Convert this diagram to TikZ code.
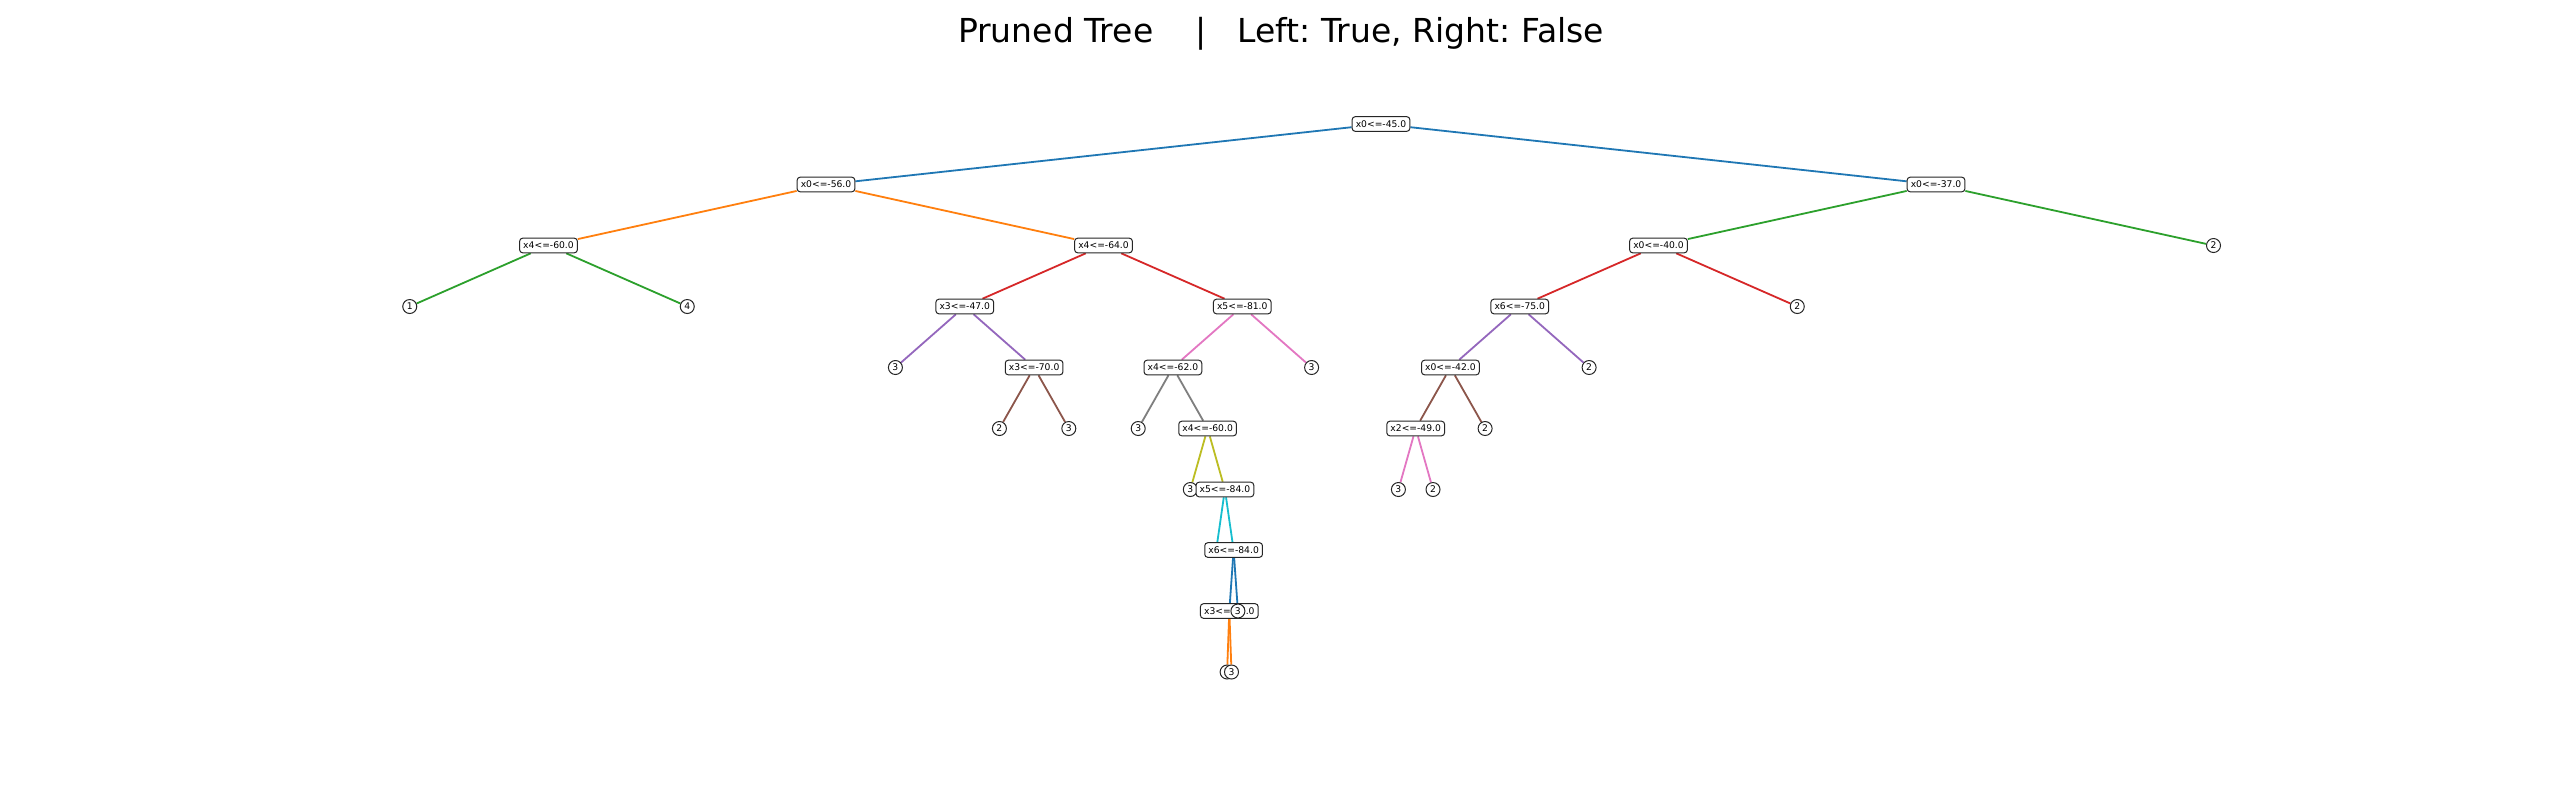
\documentclass[tikz,border=0pt]{standalone}
\usepackage{fontspec}
\setmainfont{DejaVu Sans}
\frenchspacing
\usetikzlibrary{backgrounds}
\definecolor{tabblue}{HTML}{1F77B4}
\definecolor{taborange}{HTML}{FF7F0E}
\definecolor{tabgreen}{HTML}{2CA02C}
\definecolor{tabred}{HTML}{D62728}
\definecolor{tabpurple}{HTML}{9467BD}
\definecolor{tabbrown}{HTML}{8C564B}
\definecolor{tabpink}{HTML}{E377C2}
\definecolor{tabgray}{HTML}{7F7F7F}
\definecolor{tabolive}{HTML}{BCBD22}
\definecolor{tabcyan}{HTML}{17BECF}

\begin{document}
\begin{tikzpicture}[x=0.5pt, y=-0.5pt, link/.style = {line width=0.9pt},
  split/.style = {draw=black!85, fill=white, line width=0.5pt, rounded corners=1.5pt, font=\fontsize{4.6}{5}\selectfont, inner xsep=1.8pt, inner ysep=2pt, text height=3.3pt, text depth=0pt},
  leaf/.style = {draw=black!85, fill=white, circle, line width=0.5pt, minimum size=7pt, inner sep=0pt, font=\fontsize{4.6}{5}\selectfont}]
\useasboundingbox (0,0) rectangle (2560,800);
\node[font=\fontsize{16.5}{20}\selectfont, anchor=base] (title) at (1281,42) {Pruned Tree\ \ \ \ |\ \ \ Left: True, Right: False};
% left branch
\node[split] (1) at (1381,124) {x0<=-45.0};
\node[split] (2) at (826,184.5) {x0<=-56.0};
\node[split] (3) at (548.5,245.5) {x4<=-60.0};
\node[leaf] (4) at (409.75,306.5) {1};
\node[leaf] (5) at (687.25,306.5) {4};
\node[split] (6) at (1103.5,245.5) {x4<=-64.0};
\node[split] (7) at (964.75,306.5) {x3<=-47.0};
\node[leaf] (8) at (895.4,367.5) {3};
\node[split] (9) at (1034.1,367.5) {x3<=-70.0};
\node[leaf] (10) at (999.4,428.5) {2};
\node[leaf] (11) at (1068.8,428.5) {3};
\node[split] (12) at (1242.25,306.5) {x5<=-81.0};
\node[split] (13) at (1172.9,367.5) {x4<=-62.0};
\node[leaf] (14) at (1138.2,428.5) {3};
\node[split] (15) at (1207.6,428.5) {x4<=-60.0};
\node[leaf] (16) at (1190.3,489.5) {3};
\node[split] (17) at (1224.9,489.5) {x5<=-84.0};
\node[leaf] (18) at (1216.2,550) {3};
\node[split] (19) at (1233.6,550) {x6<=-84.0};
\node[split] (20) at (1229.3,611) {x3<=-66.0};
\node[leaf] (21) at (1227.1,672) {2};
\node[leaf] (22) at (1231.5,672) {3};
\node[leaf] (23) at (1237.9,611) {3};
\node[leaf] (24) at (1311.6,367.5) {3};
% right branch
\node[split] (25) at (1936,184.5) {x0<=-37.0};
\node[split] (26) at (1658.5,245.5) {x0<=-40.0};
\node[split] (27) at (1519.75,306.5) {x6<=-75.0};
\node[split] (28) at (1450.4,367.5) {x0<=-42.0};
\node[split] (29) at (1415.7,428.5) {x2<=-49.0};
\node[leaf] (30) at (1398.4,489.5) {3};
\node[leaf] (31) at (1433,489.5) {2};
\node[leaf] (32) at (1485.1,428.5) {2};
\node[leaf] (33) at (1589.1,367.5) {2};
\node[leaf] (34) at (1797.25,306.5) {2};
\node[leaf] (35) at (2213.5,245.5) {2};
\begin{pgfonlayer}{background}
\fill[white] (0,0) rectangle (2560,800);
\draw[link, tabblue] (1) -- (2); \draw[link, tabblue] (1) -- (25);
\draw[link, taborange] (2) -- (3); \draw[link, taborange] (2) -- (6);
\draw[link, tabgreen] (3) -- (4); \draw[link, tabgreen] (3) -- (5);
\draw[link, tabred] (6) -- (7); \draw[link, tabred] (6) -- (12);
\draw[link, tabpurple] (7) -- (8); \draw[link, tabpurple] (7) -- (9);
\draw[link, tabbrown] (9) -- (10); \draw[link, tabbrown] (9) -- (11);
\draw[link, tabpink] (12) -- (13); \draw[link, tabpink] (12) -- (24);
\draw[link, tabgray] (13) -- (14); \draw[link, tabgray] (13) -- (15);
\draw[link, tabolive] (15) -- (16); \draw[link, tabolive] (15) -- (17);
\draw[link, tabcyan] (17) -- (18); \draw[link, tabcyan] (17) -- (19);
\draw[link, tabblue] (19) -- (20); \draw[link, tabblue] (19) -- (23);
\draw[link, taborange] (20) -- (21); \draw[link, taborange] (20) -- (22);
\draw[link, tabgreen] (25) -- (26); \draw[link, tabgreen] (25) -- (35);
\draw[link, tabred] (26) -- (27); \draw[link, tabred] (26) -- (34);
\draw[link, tabpurple] (27) -- (28); \draw[link, tabpurple] (27) -- (33);
\draw[link, tabbrown] (28) -- (29); \draw[link, tabbrown] (28) -- (32);
\draw[link, tabpink] (29) -- (30); \draw[link, tabpink] (29) -- (31);
\end{pgfonlayer}
\end{tikzpicture}
\end{document}
